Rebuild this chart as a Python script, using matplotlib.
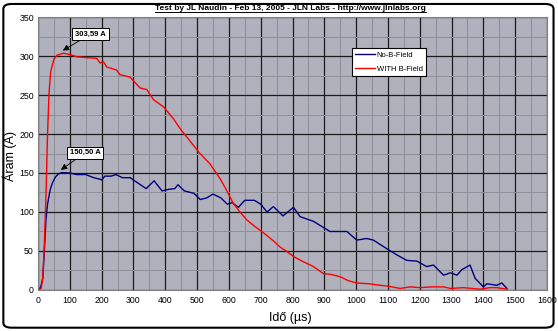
import matplotlib
matplotlib.use("Agg")
import matplotlib.pyplot as plt
from matplotlib.patches import FancyBboxPatch
from matplotlib.lines import Line2D
from matplotlib.ticker import MultipleLocator

plt.rcParams['font.family'] = ['Liberation Sans', 'DejaVu Sans']

title = "Test by JL Naudin - Feb 13, 2005 - JLN Labs - http://www.jlnlabs.org"
xlabel = "Idő (µs)"
ylabel = "Áram (A)"
series_names = ["No-B-Field", "WITH B-Field"]

blue_t = [0, 8, 15, 20, 25, 30, 38, 45, 55, 65, 75, 100, 120, 150, 175, 195, 200, 210, 230, 245,
          265, 290, 300, 340, 365, 390, 410, 430, 440, 460, 490, 510, 530, 550, 575, 595, 610,
          630, 650, 680, 700, 720, 740, 770, 803, 824, 866, 918, 971, 1002, 1033, 1054, 1096,
          1128, 1159, 1191, 1222, 1243, 1275, 1296, 1317, 1332, 1358, 1374, 1400, 1411, 1442,
          1458, 1474]
blue_a = [1, 3, 15, 50, 90, 110, 128, 137, 145, 149, 150.5, 150, 148, 148, 144, 142, 141, 146, 146,
          148, 144, 144, 141, 130, 140, 127, 129, 130, 135, 127, 124, 116, 118, 123, 118, 110, 112,
          106, 115, 115, 110, 100, 107, 95, 106, 94, 88, 75, 75, 64, 66, 64, 53, 45, 38, 37, 30,
          32, 19, 22, 19, 26, 32, 15, 4, 8, 6, 9, 2]

red_t = [0, 10, 15, 20, 25, 30, 35, 40, 50, 60, 80, 100, 122, 150, 185, 195, 205, 216, 247, 258,
         289, 321, 342, 363, 394, 425, 450, 470, 509, 540, 572, 590, 614, 635, 656, 680, 700, 719,
         740, 761, 780, 803, 830, 866, 897, 920, 950, 975, 1002, 1040, 1075, 1100, 1138, 1170,
         1201, 1240, 1275, 1296, 1338, 1390, 1420, 1442, 1474]
red_a = [0, 2, 15, 60, 120, 200, 255, 280, 296, 301, 303.59, 302, 299, 298, 297, 291, 293, 286,
         282, 276, 273, 259, 257, 244, 235, 220, 205, 195, 175, 162, 143, 130, 111, 100, 90, 82,
         76, 70, 63, 55, 50, 43, 37, 30, 21, 20, 17, 12, 9, 8, 6, 5, 2, 4, 3, 4, 4, 2, 3, 1, 3, 3, 1]

peak_labels = ["303,59 A", "150,50 A"]
arrow_tips = [(78, 307), (72, 154)]
label_pos = [(165, 328), (148, 176)]

fig = plt.figure(figsize=(5.58, 3.31), dpi=100)
fig.patch.set_facecolor('white')

border = FancyBboxPatch((0.006, 0.01), 0.986, 0.978, boxstyle="round,pad=0,rounding_size=0.015",
                        transform=fig.transFigure, facecolor='white', edgecolor='black',
                        linewidth=1.5, zorder=-10)
fig.patches.append(border)

ax = fig.add_axes([0.0681, 0.1239, 0.9122, 0.8247])
ax.set_facecolor('#b1b1bd')

ax.set_xlim(0, 1600)
ax.set_ylim(0, 350)
ax.xaxis.set_major_locator(MultipleLocator(100))
ax.xaxis.set_minor_locator(MultipleLocator(50))
ax.yaxis.set_major_locator(MultipleLocator(50))
ax.yaxis.set_minor_locator(MultipleLocator(25))
ax.grid(which='minor', color='#8e8e96', linewidth=0.7)
ax.grid(which='major', color='#1a1a1a', linewidth=0.9)
ax.set_axisbelow(True)
ax.tick_params(which='both', length=0, labelsize=6.3)
ax.tick_params(axis='y', pad=3)
ax.tick_params(axis='x', pad=4)
for s in ax.spines.values():
    s.set_color('#808080')
    s.set_linewidth(0.8)

ax.plot(blue_t, blue_a, color='#000080', linewidth=1.0, label=series_names[0])
ax.plot(red_t, red_a, color='#ff0000', linewidth=1.0, label=series_names[1])

for lab, tip, pos in zip(peak_labels, arrow_tips, label_pos):
    ax.annotate(lab, xy=tip, xytext=pos, textcoords='data',
                fontsize=5.5, fontweight='bold', ha='center', va='center',
                bbox=dict(boxstyle='square,pad=0.35', facecolor='white', edgecolor='black', linewidth=0.7),
                arrowprops=dict(arrowstyle='-|>', color='black', linewidth=0.6, mutation_scale=9,
                                shrinkA=0, shrinkB=0))

leg = ax.legend(loc='upper left', bbox_to_anchor=(0.617, 0.887), fontsize=5.5, frameon=True,
                fancybox=False, handlelength=2.6, handletextpad=0.15, borderpad=0.45,
                labelspacing=0.9, borderaxespad=0)
leg.get_frame().set_edgecolor('black')
leg.get_frame().set_linewidth(0.8)
leg.get_frame().set_facecolor('white')
leg.get_frame().set_alpha(1)

t = fig.text(0.52, 0.975, title, ha='center', va='center', fontsize=6, fontweight='bold')
fig.canvas.draw()
bb = t.get_window_extent().transformed(fig.transFigure.inverted())
fig.add_artist(Line2D([bb.x0, bb.x1], [bb.y0 - 0.002, bb.y0 - 0.002], color='black',
                      linewidth=0.7, transform=fig.transFigure))

fig.text(0.52, 0.04, xlabel, ha='center', va='center', fontsize=9)
fig.text(0.0175, 0.53, ylabel, ha='center', va='center', fontsize=9, rotation=90)

fig.savefig('out.png', dpi=100)
